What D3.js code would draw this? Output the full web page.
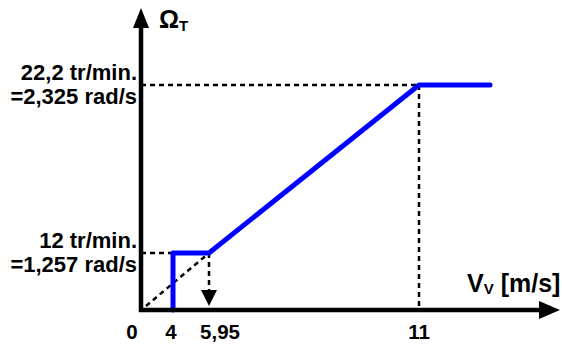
<!DOCTYPE html>
<html>
<head>
<meta charset="utf-8">
<script src="https://cdn.jsdelivr.net/npm/d3@7"></script>
<style>
  body { margin: 0; background: #fff; }
  text { font-family: "Liberation Sans", Arial, sans-serif; font-weight: bold; fill: #000; }
</style>
</head>
<body>
<div id="chart"></div>
<script>
// wind speed (m/s) vs turbine rotor speed (rad/s), schematic
var windSpeed = [4, 4, 5.95, 11, 12.7];
var rotorSpeed = [0, 1.257, 1.257, 2.325, 2.325];
var xTicks = [0, 4, 5.95, 11];
var xTickLabels = ['0', '4', '5,95', '11'];
var yLevels = [1.257, 2.325];
var yLabels = [['12 tr/min.', '=1,257 rad/s'], ['22,2 tr/min.', '=2,325 rad/s']];

var width = 562, height = 347;

var svg = d3.select('#chart').append('svg')
    .attr('width', width).attr('height', height);

// schematic axes: not to scale, so piecewise scales
var x = d3.scaleLinear()
    .domain([0, 4, 5.95, 11, 12.7, 14.4])
    .range([141, 173, 209, 419, 490, 560]);
var y = d3.scaleLinear()
    .domain([0, 1.257, 2.325, 3.3])
    .range([310, 253, 85, 8]);

// dashed guides
var dash = svg.append('g')
    .attr('stroke', '#000')
    .attr('stroke-width', 2.5)
    .attr('stroke-dasharray', '5,4')
    .attr('fill', 'none');

dash.append('line') // low level horizontal
    .attr('x1', x(0)).attr('y1', y(yLevels[0]))
    .attr('x2', x(windSpeed[1])).attr('y2', y(yLevels[0]));
dash.append('line') // origin diagonal
    .attr('x1', x(0) + 5).attr('y1', y(0) - 4)
    .attr('x2', x(windSpeed[2])).attr('y2', y(yLevels[0]));
dash.append('line') // drop at 5.95
    .attr('x1', x(windSpeed[2])).attr('y1', y(yLevels[0]))
    .attr('x2', x(windSpeed[2])).attr('y2', y(0) - 20);
dash.append('line') // high level horizontal
    .attr('x1', x(0)).attr('y1', y(yLevels[1]))
    .attr('x2', x(windSpeed[3])).attr('y2', y(yLevels[1]));
dash.append('line') // vertical at 11
    .attr('x1', x(windSpeed[3])).attr('y1', y(yLevels[1]))
    .attr('x2', x(windSpeed[3])).attr('y2', y(0));

// arrow head of the drop line
var ax = x(windSpeed[2]);
svg.append('path')
    .attr('d', 'M' + ax + ',' + (y(0) - 4) + ' L' + (ax - 8) + ',' + (y(0) - 20) + ' L' + (ax + 8) + ',' + (y(0) - 20) + ' Z')
    .attr('fill', '#000');

// the operating curve
var line = d3.line()
    .x(function(d, i) {return x(windSpeed[i]);})
    .y(function(d) {return y(d);});

svg.append('path')
    .datum(rotorSpeed)
    .attr('d', line)
    .attr('fill', 'none')
    .attr('stroke', '#0000ff')
    .attr('stroke-width', 5)
    .attr('stroke-linecap', 'round')
    .attr('stroke-linejoin', 'round');

// axes with arrow heads
var axes = svg.append('g');
axes.append('line')
    .attr('x1', x(0)).attr('y1', y(0) + 2)
    .attr('x2', x(0)).attr('y2', 26)
    .attr('stroke', '#000').attr('stroke-width', 4.5);
axes.append('path')
    .attr('d', 'M' + x(0) + ',' + y.range()[3] + ' L' + (x(0) - 8) + ',28 L' + (x(0) + 8) + ',28 Z')
    .attr('fill', '#000');
axes.append('line')
    .attr('x1', x(0) - 2).attr('y1', y(0))
    .attr('x2', 541).attr('y2', y(0))
    .attr('stroke', '#000').attr('stroke-width', 4.5);
axes.append('path')
    .attr('d', 'M' + x.range()[5] + ',' + y(0) + ' L539,' + (y(0) - 9) + ' L539,' + (y(0) + 9) + ' Z')
    .attr('fill', '#000');

// tick labels (0 and 5,95 sit a little off their ticks in the original)
var tickShift = [-9, -2, 11, 0];
svg.append('g').selectAll('text')
    .data(xTicks)
    .enter().append('text')
    .attr('x', function(d, i) {return x(d) + tickShift[i];})
    .attr('y', 339)
    .attr('text-anchor', 'middle')
    .attr('font-size', 20.5)
    .text(function(d, i) {return xTickLabels[i];});

var ylab = svg.append('g').selectAll('text')
    .data(yLevels)
    .enter().append('text')
    .attr('text-anchor', 'end')
    .attr('font-size', 22);
ylab.append('tspan')
    .attr('x', 137)
    .attr('y', function(d) {return y(d) - 5;})
    .text(function(d, i) {return yLabels[i][0];});
ylab.append('tspan')
    .attr('x', 137)
    .attr('y', function(d) {return y(d) + 19;})
    .text(function(d, i) {return yLabels[i][1];});

// axis titles
var yt = svg.append('text')
    .attr('x', 159).attr('y', 28)
    .attr('font-size', 25);
yt.append('tspan').text('Ω');
yt.append('tspan').attr('font-size', 15).attr('dy', 3).text('T');

var xt = svg.append('text')
    .attr('x', 467).attr('y', 292)
    .attr('font-size', 25);
xt.append('tspan').text('V');
xt.append('tspan').attr('font-size', 15).attr('dy', 2).text('V');
xt.append('tspan').attr('dy', -2).text(' [m/s]');
</script>
</body>
</html>
